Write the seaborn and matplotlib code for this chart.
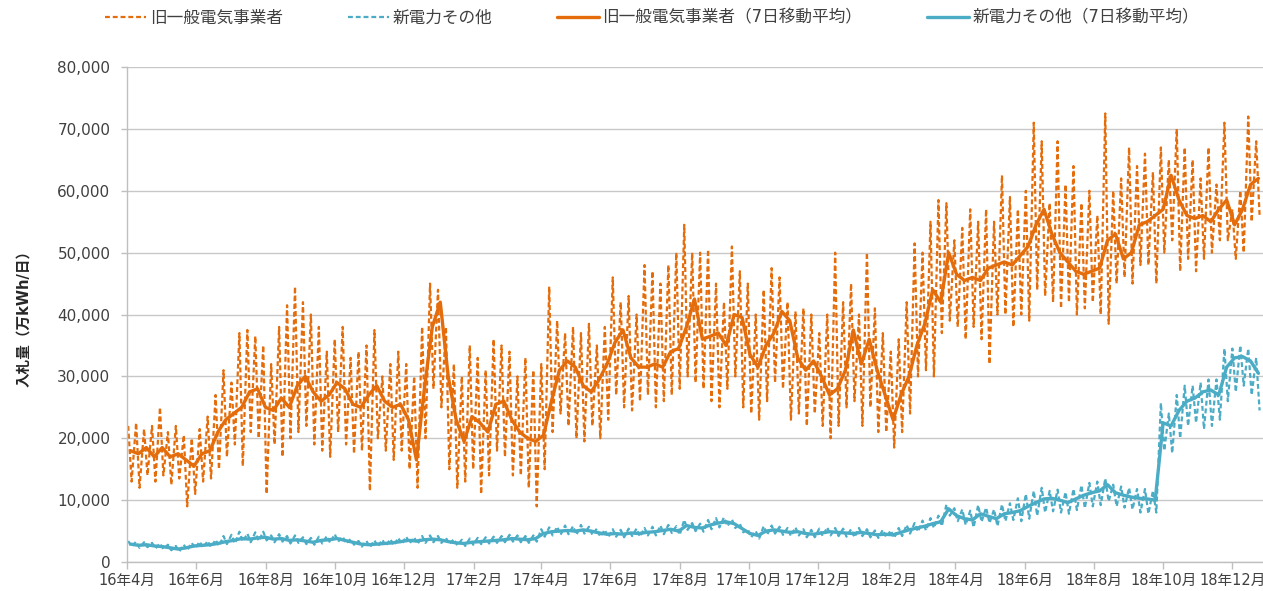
import matplotlib
matplotlib.use("Agg")
from matplotlib import pyplot as plt
import matplotlib.dates as mdates
from matplotlib.ticker import FuncFormatter, MultipleLocator
import pandas as pd
import seaborn as sns

# weekly readings (thousand 万kWh/day), week 0 starts 2016-04-01
start = pd.Timestamp("2016-04-01")

# 旧一般電気事業者: 7-day moving average, weekly high and weekly low of the daily values
old_ma = [18, 17.5, 18.5, 17, 18.5, 17, 17.5, 16.5, 15.5, 17.5, 18, 21,
          23, 24, 25, 27.5, 28, 25, 24.5, 26.5, 25, 28.5,
          30, 27.5, 26, 27, 29, 28, 25.5, 25, 27, 28.5, 26, 25,
          25.5, 23, 16.5, 28, 38, 42, 30, 23, 19.5,
          23.5, 22.5, 21, 25.5, 26, 23, 21, 20, 19.5,
          20.5, 26, 31, 32.5, 31.5, 28.5, 27.5, 29.5, 32,
          35.5, 37.5, 33, 31.5, 31.5, 32, 31.5, 34,
          34.5, 38, 42.5, 36, 36.5, 37, 35, 40, 39.5,
          33.5, 31.5, 35, 37, 40.5, 39, 33, 31, 32.5,
          30, 27, 28, 31, 37.5, 32, 36, 31, 27, 23, 27, 30,
          35, 38.5, 44, 42, 50, 46.5, 45.5, 46, 45.5,
          47.5, 48, 48.5, 48, 49.5, 51, 54.5, 57,
          53, 50, 48.5, 47, 46.5, 47, 47.5, 52, 53,
          49, 50, 54.5, 55, 56, 57, 62.5, 58.5, 56,
          55.5, 56, 55, 57, 58.5, 54.5, 57, 61, 62]
old_hi = [22, 22.5, 21.5, 22, 25, 21, 22, 20.5, 20, 21.5, 23.5, 27,
          31, 29, 37, 37.5, 36.5, 35, 32, 38, 41.5, 44.5,
          42, 40, 38, 34, 36, 38, 33, 34, 35, 37.5, 30, 32,
          34, 32, 30, 38, 45, 44, 38, 32, 30,
          35, 33, 31, 36, 35, 34, 30, 33, 31,
          32, 44.5, 39, 37, 38, 37, 38.5, 35, 38,
          46, 42, 43, 40, 48, 47, 45, 48,
          50, 54.5, 50, 50, 50.5, 45, 42, 51, 47,
          45, 40, 44, 47.5, 46, 42, 40.5, 41, 40,
          37, 40, 50, 42, 45, 40, 50, 41, 37, 34, 36, 42,
          51.5, 50, 55, 58.5, 58, 52, 54, 57, 55,
          57, 55, 62.5, 59, 57, 60, 71, 68,
          58, 68, 61, 64, 58, 60, 56, 72.5, 60,
          62, 67, 64, 66, 63, 67, 65, 70, 67,
          65, 62, 67, 61, 71, 57, 60, 72, 68]
old_lo = [13, 12, 14, 13, 14, 12.5, 13.5, 9, 11, 13, 13.5, 15,
          17, 19, 15.5, 21, 20, 11, 19, 17, 20, 21,
          22, 19, 18, 17, 21, 19, 17.5, 18, 11.5, 20, 18, 16.5,
          18, 15, 12, 20, 28, 25, 15, 12, 13,
          15, 11, 14, 18, 17, 14, 14, 12, 9,
          15, 21, 24, 22, 20, 19.5, 22, 20, 23,
          27, 25, 24.5, 26, 27, 25, 26, 27,
          28, 30, 29, 28, 26, 25, 28, 30, 25,
          24, 23, 26, 29, 28, 23, 24, 22, 24,
          22, 20, 22, 25, 26, 22, 25, 21, 21, 18.5, 21, 24,
          30, 31, 30, 37, 39, 38, 36, 38, 36,
          32, 40, 40, 38, 40, 39, 44, 43,
          42, 41, 42, 40, 41, 42, 40, 38.5, 45,
          46, 45, 48, 48, 45, 50, 52, 47, 49,
          47, 49, 50, 52, 52, 49, 50, 55, 56]

# 新電力その他
new_ma = [2.9, 2.7, 2.8, 2.6, 2.5, 2.3, 2.1, 2.3, 2.6, 2.7, 2.8, 3.0,
          3.3, 3.5, 3.8, 3.7, 3.9, 4.0, 3.7, 3.8, 3.5, 3.6,
          3.4, 3.2, 3.5, 3.6, 3.8, 3.5, 3.2, 2.9, 2.8, 2.9, 3.0, 3.1,
          3.3, 3.5, 3.4, 3.6, 3.7, 3.6, 3.3, 3.1, 3.0,
          3.2, 3.3, 3.4, 3.5, 3.6, 3.8, 3.7, 3.6, 3.8,
          4.6, 4.9, 5.0, 5.1, 5.0, 5.2, 5.0, 4.7, 4.5,
          4.6, 4.5, 4.7, 4.6, 4.8, 4.9, 5.1, 5.3,
          5.0, 5.9, 5.6, 5.5, 6.0, 6.3, 6.5, 6.2, 5.4,
          4.6, 4.3, 5.0, 5.2, 5.0, 4.8, 4.9, 4.6, 4.5,
          4.7, 4.9, 4.8, 4.7, 4.6, 4.8, 4.6, 4.4, 4.5, 4.4, 4.8, 5.2,
          5.5, 5.8, 6.2, 6.5, 8.6, 7.5, 7.0, 6.8, 7.8,
          7.4, 7.0, 7.8, 8.0, 8.3, 9.0, 9.6, 10.2,
          10.3, 10.0, 9.6, 10.2, 10.8, 11.2, 11.5, 12.5, 11.2,
          10.8, 10.5, 10.3, 10.2, 10.0, 22.5, 22.0, 24.5, 26.0,
          26.5, 27.5, 27.8, 27.0, 31.5, 33.0, 33.2, 32.5, 30.5]
new_hi = [3.4, 3.3, 3.2, 3.1, 3.0, 2.8, 2.6, 2.8, 3.1, 3.3, 3.4, 3.6,
          4.2, 4.4, 4.9, 4.6, 4.8, 4.9, 4.3, 4.5, 4.2, 4.3,
          4.0, 3.9, 4.1, 4.2, 4.5, 4.1, 3.7, 3.4, 3.4, 3.5, 3.6, 3.7,
          3.9, 4.1, 4.0, 4.2, 4.3, 4.2, 3.9, 3.7, 3.6,
          3.8, 3.9, 4.0, 4.1, 4.2, 4.4, 4.3, 4.2, 4.3,
          5.3, 5.6, 5.7, 5.9, 5.8, 6.0, 5.7, 5.4, 5.2,
          5.3, 5.2, 5.4, 5.4, 5.5, 5.7, 5.9, 6.0,
          5.8, 6.8, 6.3, 6.2, 6.8, 7.1, 7.2, 6.9, 6.2,
          5.3, 5.0, 5.8, 5.9, 5.7, 5.5, 5.6, 5.3, 5.2,
          5.4, 5.6, 5.5, 5.4, 5.3, 5.5, 5.3, 5.1, 5.2, 5.1, 5.5, 6.0,
          6.3, 6.7, 7.1, 7.5, 9.3, 8.7, 8.5, 8.3, 9.2,
          8.8, 8.5, 9.3, 9.5, 10.3, 11.0, 11.5, 12.0,
          11.5, 11.7, 11.3, 11.8, 12.4, 12.8, 13.0, 13.5, 12.5,
          12.2, 12.0, 11.8, 11.8, 11.5, 25.7, 24.0, 27.0, 28.5,
          28.5, 29.0, 29.5, 29.5, 34.5, 34.5, 35.0, 34.5, 33.0]
new_lo = [2.5, 2.3, 2.4, 2.2, 2.1, 1.9, 1.7, 1.9, 2.2, 2.3, 2.4, 2.6,
          2.9, 3.0, 3.3, 3.2, 3.4, 3.5, 3.2, 3.3, 3.0, 3.1,
          2.9, 2.8, 3.0, 3.1, 3.3, 3.0, 2.8, 2.5, 2.4, 2.5, 2.6, 2.7,
          2.9, 3.0, 2.9, 3.1, 3.2, 3.1, 2.9, 2.7, 2.6,
          2.8, 2.9, 3.0, 3.1, 3.2, 3.3, 3.2, 3.1, 3.3,
          4.1, 4.3, 4.4, 4.5, 4.4, 4.6, 4.4, 4.1, 4.0,
          4.1, 4.0, 4.2, 4.1, 4.3, 4.3, 4.5, 4.7,
          4.4, 5.2, 5.0, 4.9, 5.3, 5.6, 5.8, 5.5, 4.8,
          4.0, 3.8, 4.4, 4.6, 4.4, 4.2, 4.3, 4.0, 4.0,
          4.2, 4.3, 4.2, 4.1, 4.0, 4.2, 4.0, 3.9, 4.0, 3.9, 4.2, 4.6,
          4.9, 5.1, 5.5, 5.8, 7.5, 6.6, 6.0, 5.6, 6.5,
          6.3, 5.8, 6.6, 6.8, 6.6, 7.0, 7.5, 8.0,
          8.2, 8.0, 7.8, 8.4, 8.7, 9.0, 9.2, 9.8, 9.0,
          8.8, 8.5, 8.0, 7.8, 8.0, 18.0, 17.6, 20.0, 22.0,
          22.5, 21.5, 22.0, 23.0, 26.0, 27.5, 28.5, 27.0, 24.5]

ORANGE = "#E46C0A"
BLUE = "#4BACC6"


def weekly(values, day):
    days = pd.to_timedelta([7 * i + day for i in range(len(values))], unit="D")
    return pd.DataFrame({"date": start + days, "value": [v * 1000 for v in values]})


def daily(hi, lo):
    return pd.concat([weekly(hi, 1), weekly(lo, 4)]).sort_values("date")


sns.set_style("white")
plt.rcParams["font.family"] = ["DejaVu Sans", "Noto Sans CJK JP"]

fig = plt.figure(figsize=(12.63, 5.91), dpi=100)
ax = fig.add_axes([0.1006, 0.049, 0.8994, 0.8376])

dash = (0, (2.2, 1.3))
sns.lineplot(data=daily(old_hi, old_lo), x="date", y="value", color=ORANGE,
             linewidth=1.6, linestyle=dash, label="旧一般電気事業者", ax=ax)
sns.lineplot(data=daily(new_hi, new_lo), x="date", y="value", color=BLUE,
             linewidth=1.6, linestyle=dash, label="新電力その他", ax=ax)
sns.lineplot(data=weekly(old_ma, 3), x="date", y="value", color=ORANGE,
             linewidth=2.4, label="旧一般電気事業者（7日移動平均）", ax=ax)
sns.lineplot(data=weekly(new_ma, 3), x="date", y="value", color=BLUE,
             linewidth=2.4, label="新電力その他（7日移動平均）", ax=ax)

ax.set_xlim(start, pd.Timestamp("2018-12-28"))
ax.set_ylim(0, 80000)
ax.yaxis.set_major_locator(MultipleLocator(10000))
ax.yaxis.set_major_formatter(FuncFormatter(lambda v, p: f"{v:,.0f}"))
ax.xaxis.set_major_locator(mdates.MonthLocator(bymonth=(2, 4, 6, 8, 10, 12)))
ax.xaxis.set_major_formatter(FuncFormatter(
    lambda v, p: f"{mdates.num2date(v).year % 100}年{mdates.num2date(v).month}月"))

ax.grid(axis="y", color="#C8C8C8", linewidth=1)
ax.grid(axis="x", visible=False)
for side in ("top", "right"):
    ax.spines[side].set_visible(False)
for side in ("left", "bottom"):
    ax.spines[side].set_color("#BFBFBF")
    ax.spines[side].set_linewidth(1)

ax.tick_params(axis="x", length=5, width=1, color="#BFBFBF", labelcolor="#404040",
               labelsize=10.5, pad=3, bottom=True)
ax.tick_params(axis="y", length=4, width=1, color="#BFBFBF", labelcolor="#404040",
               labelsize=11, pad=8, left=True)

ax.set_xlabel("")
ax.set_ylabel("入札量（万kWh/日）", fontsize=10.5, fontweight="bold", color="#262626", labelpad=19)

ax.legend(loc="center", bbox_to_anchor=(0.516, 0.97), bbox_transform=fig.transFigure,
          ncol=4, frameon=False, fontsize=12, handlelength=2.5, handletextpad=0.2,
          columnspacing=3.9, labelcolor="#404040")

fig.savefig("out.png", dpi=100)
